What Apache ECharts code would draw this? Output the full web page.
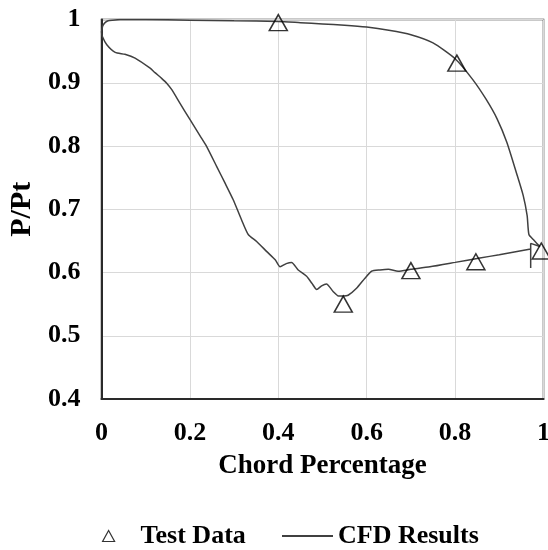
<!DOCTYPE html>
<html>
<head>
<meta charset="utf-8">
<script src="https://cdn.jsdelivr.net/npm/echarts@6/dist/echarts.min.js"></script>
<style>
  html, body { margin: 0; padding: 0; background: #fff; }
  #chart { width: 548px; height: 550px; }
</style>
</head>
<body>
<div id="chart"></div>
<script>
// Measured pressure ratio at the pressure taps
const testX = [0.4, 0.804, 0.547, 0.70, 0.847, 0.995];
const testY = [0.995, 0.931, 0.550, 0.603, 0.617, 0.634];

// CFD surface pressure, upper surface from leading edge to trailing edge
const cfdUpperX = [0, 0.003, 0.008, 0.015, 0.025, 0.042, 0.07, 0.1, 0.2, 0.3, 0.4, 0.45, 0.5, 0.55, 0.6, 0.65, 0.7, 0.75, 0.8, 0.84, 0.87, 0.895, 0.917, 0.939, 0.954, 0.963, 0.967, 0.977, 0.985, 0.992];
const cfdUpperY = [0.98, 0.99, 0.995, 0.998, 0.999, 1.0, 1.0, 1.0, 0.999, 0.998, 0.997, 0.995, 0.993, 0.991, 0.988, 0.983, 0.976, 0.963, 0.938, 0.905, 0.874, 0.843, 0.806, 0.757, 0.722, 0.69, 0.66, 0.652, 0.646, 0.641];

// trailing-edge spike
const cfdTailX = [0.971, 0.971, 0.971];
const cfdTailY = [0.646, 0.607, 0.637];

// lower surface, from trailing edge back to leading edge
const cfdLowerX = [0.9, 0.856, 0.8, 0.743, 0.7, 0.671, 0.649, 0.63, 0.611, 0.596, 0.577, 0.558, 0.547, 0.536, 0.524, 0.509, 0.498, 0.487, 0.476, 0.464, 0.445, 0.43, 0.418, 0.404, 0.393, 0.374, 0.351, 0.332, 0.317, 0.298, 0.279, 0.261, 0.238, 0.223, 0.2, 0.178, 0.159, 0.148, 0.136, 0.121, 0.11, 0.076, 0.053, 0.031, 0.012, 0.002, 0];
const cfdLowerY = [0.628, 0.623, 0.616, 0.609, 0.605, 0.602, 0.605, 0.604, 0.602, 0.591, 0.575, 0.564, 0.563, 0.563, 0.570, 0.582, 0.579, 0.573, 0.583, 0.594, 0.604, 0.616, 0.614, 0.609, 0.620, 0.633, 0.649, 0.660, 0.683, 0.715, 0.742, 0.767, 0.799, 0.816, 0.842, 0.867, 0.889, 0.899, 0.907, 0.916, 0.923, 0.939, 0.945, 0.948, 0.960, 0.973, 0.98];

const pair = (xs, ys) => xs.map((x, i) => [x, ys[i]]);
const cfdData = pair(cfdUpperX, cfdUpperY)
  .concat(pair(cfdTailX, cfdTailY))
  .concat(pair(cfdLowerX, cfdLowerY));
const testData = pair(testX, testY);

const FONT = '"Liberation Serif", "Times New Roman", serif';
const labelStyle = { fontFamily: FONT, fontWeight: 'bold', fontSize: 26, color: '#000' };

const chart = echarts.init(document.getElementById('chart'), null, { renderer: 'canvas' });
chart.setOption({
  animation: false,
  backgroundColor: '#fff',
  grid: {
    left: 101.5, right: 4.5, top: 19.5, bottom: 151,
    show: true, borderColor: '#2a2a2a', borderWidth: 1.5,
    containLabel: false, outerBoundsMode: 'none'
  },
  xAxis: {
    type: 'value', min: 0, max: 1, interval: 0.2,
    name: 'Chord Percentage', nameLocation: 'middle', nameGap: 54,
    nameTextStyle: Object.assign({}, labelStyle, { fontSize: 27 }),
    axisLine: { show: true, lineStyle: { color: '#2a2a2a', width: 2 } },
    axisTick: { show: false },
    axisLabel: Object.assign({}, labelStyle, { margin: 21 }),
    splitLine: { show: true, lineStyle: { color: '#d9d9d9', width: 1 } }
  },
  yAxis: {
    type: 'value', min: 0.4, max: 1, interval: 0.1,
    name: 'P/Pt', nameLocation: 'middle', nameGap: 64,
    nameTextStyle: Object.assign({}, labelStyle, { fontSize: 30 }),
    axisLine: { show: true, lineStyle: { color: '#2a2a2a', width: 2 } },
    axisTick: { show: false },
    axisLabel: Object.assign({}, labelStyle, { margin: 21 }),
    splitLine: { show: true, lineStyle: { color: '#d9d9d9', width: 1 } }
  },
  legend: [
    {
      left: 102, top: 523, padding: 0,
      itemWidth: 12, itemHeight: 11,
      textStyle: Object.assign({}, labelStyle, { padding: [0, 0, 0, 21] }),
      data: [{
        name: 'Test Data', icon: 'triangle',
        itemStyle: { color: 'rgba(0,0,0,0)', borderColor: '#000', borderWidth: 1.2 }
      }]
    },
    {
      left: 282, top: 523, padding: 0,
      itemWidth: 51, itemHeight: 1.5,
      textStyle: labelStyle,
      data: [{
        name: 'CFD Results', icon: 'rect',
        itemStyle: { color: '#000', borderWidth: 0 }
      }]
    }
  ],
  series: [
    {
      name: 'CFD Results', type: 'line',
      data: cfdData,
      showSymbol: false, smooth: 0.2,
      lineStyle: { color: '#404040', width: 1.5 },
      itemStyle: { color: '#404040' },
      z: 2
    },
    {
      name: 'Test Data', type: 'scatter',
      data: testData,
      symbol: 'triangle', symbolSize: [18, 16],
      itemStyle: { color: 'rgba(0,0,0,0)', borderColor: '#000', borderWidth: 1.5 },
      clip: false,
      z: 3
    }
  ]
});
</script>
</body>
</html>
